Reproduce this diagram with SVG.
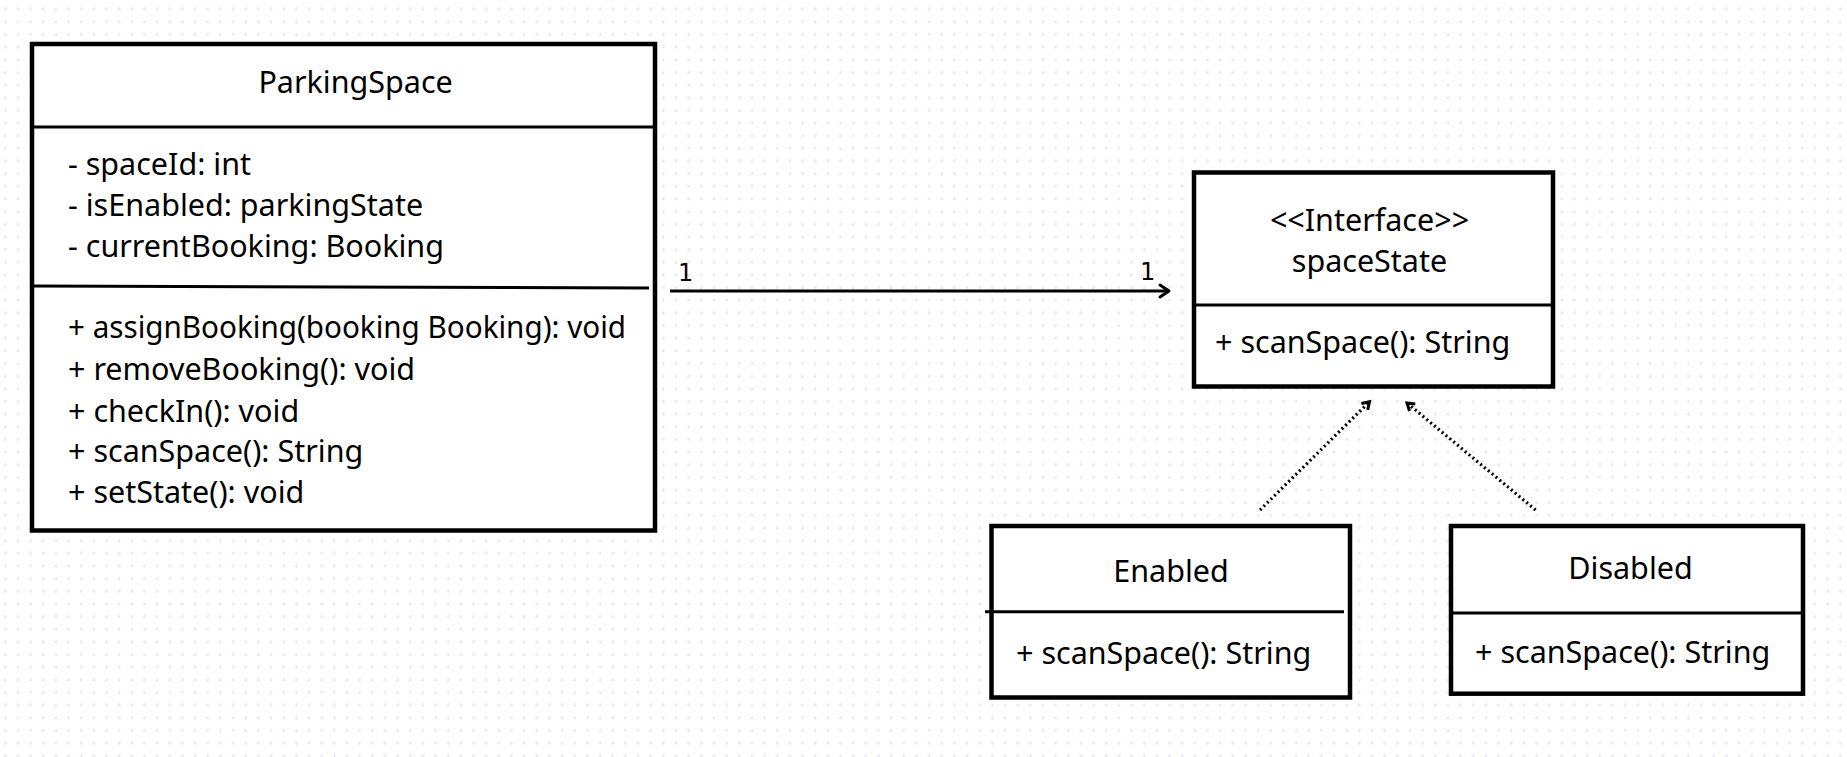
<svg xmlns="http://www.w3.org/2000/svg" width="1847" height="757" viewBox="0 0 1847 757">
<defs>
<pattern id="dots" x="5" y="9.3" width="12.655" height="12.655" patternUnits="userSpaceOnUse">
<rect x="-1.5" y="-0.5" width="3" height="1" fill="#dcdce6"/>
<rect x="-0.5" y="-1.5" width="1" height="3" fill="#dcdce6"/>
<rect x="-0.5" y="-0.5" width="1" height="1" fill="#c9c9d6"/>
<rect x="11.155" y="-0.5" width="3" height="1" fill="#dcdce6"/>
<rect x="-1.5" y="11.155" width="3" height="1" fill="#dcdce6"/>
<rect x="12.155" y="11.155" width="1" height="3" fill="#dcdce6"/>
</pattern>
<marker id="open" markerUnits="userSpaceOnUse" markerWidth="24" markerHeight="24" viewBox="-12 -12 24 24" refX="0" refY="0" orient="auto" overflow="visible">
<path d="M -9 -6 L 0 0 L -9 6" fill="none" stroke="#000" stroke-width="3" stroke-linecap="round" stroke-linejoin="round"/>
</marker>
<marker id="small" markerUnits="userSpaceOnUse" markerWidth="20" markerHeight="20" viewBox="-10 -10 20 20" refX="0" refY="0" orient="auto" overflow="visible">
<path d="M -7 -4.5 L 0 0 L -7 4.5" fill="none" stroke="#000" stroke-width="3" stroke-linejoin="miter"/>
</marker>
</defs>
<style>
.box{fill:#fff;stroke:#000;stroke-width:4.5}
.div{stroke:#000;stroke-width:3;fill:none}
.t{font-family:"Noto Sans","Open Sans","Liberation Sans",sans-serif;font-size:30.5px;fill:#000}
.c{text-anchor:middle}
.lbl{font-family:"DejaVu Sans","Liberation Sans",sans-serif;font-size:24px;fill:#000}
.assoc{stroke:#000;stroke-width:3;fill:none}
.real{stroke:#000;stroke-width:3.2;fill:none;stroke-dasharray:2 3}
</style>
<rect width="1847" height="757" fill="#fff"/>
<rect width="1847" height="757" fill="url(#dots)"/>

<g id="ParkingSpace">
<rect class="box" x="32" y="44" width="623" height="486.5"/>
<line class="div" x1="32" y1="127" x2="655" y2="127"/>
<line class="div" x1="32" y1="286" x2="649" y2="288"/>
<text class="t c" x="355.6" y="93.3">ParkingSpace</text>
<text class="t" x="68" y="175">- spaceId: int</text>
<text class="t" x="68" y="215.5">- isEnabled: parkingState</text>
<text class="t" x="68" y="256.5">- currentBooking: Booking</text>
<text class="t" x="68" y="338" textLength="558" lengthAdjust="spacingAndGlyphs">+ assignBooking(booking Booking): void</text>
<text class="t" x="68" y="380">+ removeBooking(): void</text>
<text class="t" x="68" y="421.5">+ checkIn(): void</text>
<text class="t" x="68" y="462">+ scanSpace(): String</text>
<text class="t" x="68" y="503">+ setState(): void</text>
</g>

<g id="spaceState">
<rect class="box" x="1194" y="172.5" width="359" height="214"/>
<line class="div" x1="1194" y1="305" x2="1553" y2="305"/>
<text class="t c" x="1369.5" y="231" font-size="26">&lt;&lt;Interface&gt;&gt;</text>
<text class="t c" x="1369.5" y="271.7">spaceState</text>
<text class="t" x="1215" y="353">+ scanSpace(): String</text>
</g>

<g id="Enabled">
<rect class="box" x="991.5" y="526" width="358.5" height="171.5"/>
<line class="div" x1="985" y1="611.7" x2="1344" y2="611.7"/>
<text class="t c" x="1171" y="581.7">Enabled</text>
<text class="t" x="1016" y="664.3">+ scanSpace(): String</text>
</g>

<g id="Disabled">
<rect class="box" x="1451" y="526" width="352" height="167.7"/>
<line class="div" x1="1451" y1="613" x2="1803" y2="613"/>
<text class="t c" x="1630.5" y="579.3">Disabled</text>
<text class="t" x="1475" y="662.7">+ scanSpace(): String</text>
</g>

<g id="connectors">
<line class="assoc" x1="670" y1="291" x2="1169" y2="291" marker-end="url(#open)"/>
<text class="lbl" x="678" y="281">1</text>
<text class="lbl" x="1140" y="280">1</text>
<line class="real" x1="1260" y1="510" x2="1369.5" y2="401.7" marker-end="url(#small)"/>
<line class="real" x1="1535.6" y1="510" x2="1407" y2="403" marker-end="url(#small)"/>
</g>
</svg>
